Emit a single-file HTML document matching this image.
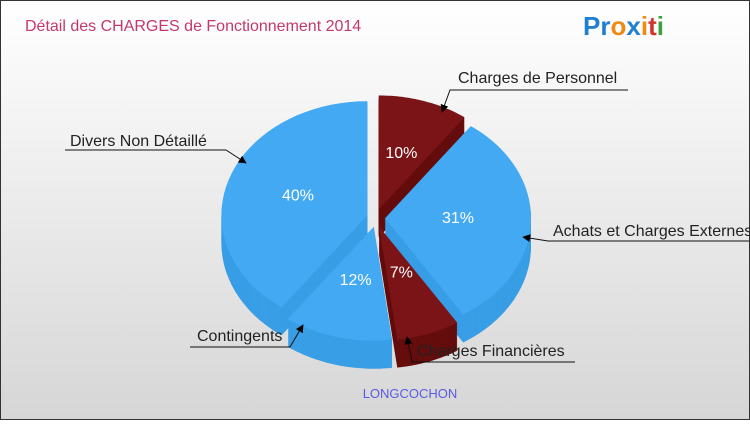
<!DOCTYPE html>
<html><head><meta charset="utf-8"><style>
html,body{margin:0;padding:0}
body{width:750px;height:420px;overflow:hidden;font-family:"Liberation Sans",sans-serif}
</style></head><body>
<svg id="chart" width="750" height="420" viewBox="0 0 750 420" xmlns="http://www.w3.org/2000/svg">
<defs>
<linearGradient id="bg" x1="0" y1="0" x2="0" y2="1"><stop offset="0" stop-color="#ffffff"/><stop offset="1" stop-color="#d6d6d6"/></linearGradient>
<marker id="arr" viewBox="0 0 10 10" refX="9" refY="5" markerWidth="8" markerHeight="8" orient="auto"><path d="M0,0 L10,5 L0,10 z" fill="#000"/></marker>
</defs>
<rect x="0.5" y="0.5" width="749" height="419" fill="url(#bg)" stroke="#333" stroke-width="1"/>
<text x="25" y="31" font-size="16" fill="#c2386e">Détail des CHARGES de Fonctionnement 2014</text>
<g font-size="26" font-weight="bold" font-family="'Liberation Sans',sans-serif">
<text x="583" y="35"><tspan fill="#1f7fd0">Pr</tspan><tspan fill="#f08a12">o</tspan><tspan fill="#1f7fd0">x</tspan><tspan fill="#f08a12">i</tspan><tspan fill="#d0342c">t</tspan><tspan fill="#3aa23a">i</tspan></text>
</g>
<g id="pie"></g>
<g id="labels"></g>
<text x="410" y="398" font-size="13" fill="#5a5ae6" text-anchor="middle">LONGCOCHON</text>
</svg>
<script>
const categories=["Charges de Personnel","Achats et Charges Externes","Charges Financières","Contingents","Divers Non Détaillé"];
const values=[10,31,7,12,40];
const pctLabels=["10%","31%","7%","12%","40%"];
const sliceColors=["red","blue","red","blue","blue"];
const cx=376,cy=218,rx=146,ry=114,depth=28,explode=9;
const NS="http://www.w3.org/2000/svg";
const pie=document.getElementById('pie'),lab=document.getElementById('labels');
const pal={red:{top:"#7a1416",side:"#650c0c"},blue:{top:"#42a9f2",side:"#389ee6"}};
const total=values.reduce((a,b)=>a+b,0);
function pt(ox,oy,a,dy){return [ox+rx*Math.sin(a),oy-ry*Math.cos(a)+dy];}
function slicePath(ox,oy,a0,a1,dy){
  let d=`M${ox},${oy+dy}`;const n=40;
  for(let i=0;i<=n;i++){const p=pt(ox,oy,a0+(a1-a0)*i/n,dy);d+=`L${p[0].toFixed(1)},${p[1].toFixed(1)}`;}
  return d+'Z';}
let acc=0;const slices=[];
values.forEach((v,i)=>{const a0=acc/total*2*Math.PI;acc+=v;const a1=acc/total*2*Math.PI;const m=(a0+a1)/2;
  const ox=cx+explode*Math.sin(m),oy=cy-explode*Math.cos(m);slices.push({i,a0,a1,m,ox,oy,depthKey:-Math.cos(m)});});
slices.slice().sort((a,b)=>a.depthKey-b.depthKey).forEach(s=>{
  const g=document.createElementNS(NS,'g');
  
  
  const c=pal[sliceColors[s.i]];
  for(let k=depth;k>0;k-=1){const p=document.createElementNS(NS,'path');p.setAttribute('d',slicePath(s.ox,s.oy,s.a0,s.a1,k));p.setAttribute('fill',c.side);g.appendChild(p);}
  const t=document.createElementNS(NS,'path');t.setAttribute('d',slicePath(s.ox,s.oy,s.a0,s.a1,0));t.setAttribute('fill',c.top);g.appendChild(t);
  pie.appendChild(g);
});
slices.forEach(s=>{const f=s.i==2?0.45:0.5;const t=document.createElementNS(NS,'text');
  
  
  t.setAttribute('x',s.ox+f*rx*Math.sin(s.m));t.setAttribute('y',s.oy-f*ry*Math.cos(s.m)+3);
  t.setAttribute('text-anchor','middle');t.setAttribute('font-size','16');t.setAttribute('fill','#fff');
  t.textContent=pctLabels[s.i];lab.appendChild(t);});
const ann=[
 {i:0,tx:458,ty:83,line:"M628,90 L450,90 L442,112"},
 {i:1,tx:553,ty:236,line:"M750,241 L548,241 L523,237"},
 {i:2,tx:417,ty:356,line:"M575,362 L412,362 L407,337"},
 {i:3,tx:197,ty:341,line:"M190,347 L290,347 L303,325"},
 {i:4,tx:70,ty:146,line:"M65,150 L226,150 L246,163"}];
ann.forEach(a=>{const p=document.createElementNS(NS,'path');
  
  
  p.setAttribute('d',a.line);p.setAttribute('fill','none');p.setAttribute('stroke','#111');p.setAttribute('marker-end','url(#arr)');lab.appendChild(p);
  const t=document.createElementNS(NS,'text');
  
  
  t.setAttribute('x',a.tx);t.setAttribute('y',a.ty);t.setAttribute('font-size','16');t.setAttribute('fill','#222');
  t.textContent=categories[a.i];lab.appendChild(t);});
</script>
</body></html>
